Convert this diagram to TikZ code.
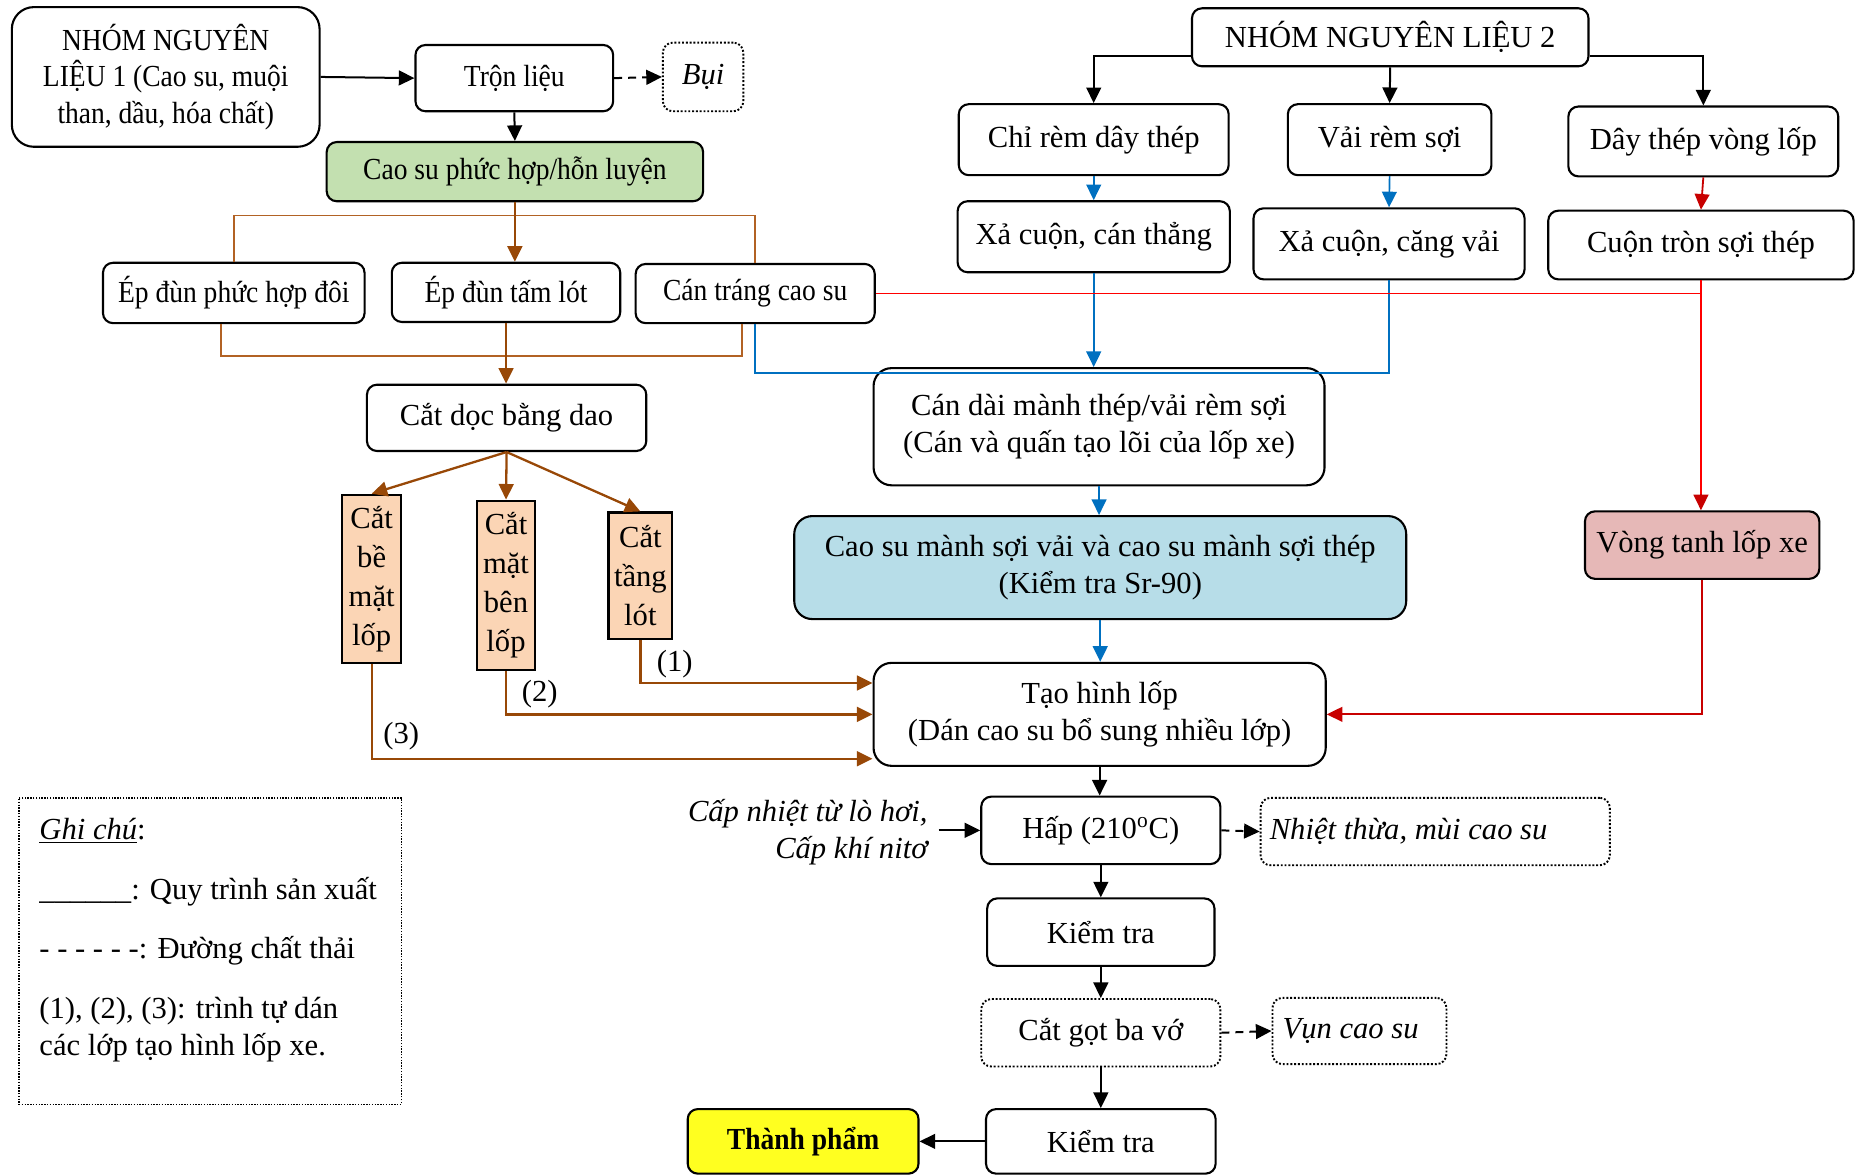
\documentclass[tikz,border=0pt]{standalone}
\usepackage{fontspec}
\setmainfont{Liberation Serif}
\newfontfamily\condserif{Liberation Serif}[FakeStretch=0.9]
\usetikzlibrary{arrows.meta,calc}

% text sizes
\newcommand\mainsz{\fontsize{15.3}{18.3}\selectfont}
\newcommand\condsz{\condserif\fontsize{15.3}{18.3}\selectfont}

% palette
\definecolor{inkbrown}{RGB}{152,72,7}
\definecolor{framebrown}{RGB}{178,98,36}
\definecolor{inkblue}{RGB}{0,112,192}
\definecolor{inkred}{RGB}{255,0,0}
\definecolor{darkred}{RGB}{200,0,0}
\definecolor{fillgreen}{RGB}{195,224,176}
\definecolor{fillblue}{RGB}{183,221,232}
\definecolor{fillpink}{RGB}{230,184,183}
\definecolor{fillpeach}{RGB}{251,213,181}
\definecolor{fillyellow}{RGB}{255,255,32}

\tikzset{
  % a box given by its left, top, right and bottom edges
  spanbox/.style n args={4}{
    minimum width={(#3-#1)*0.5918pt}, minimum height={(#4-#2)*0.5918pt},
    at={({(#1+#3)/2},{(#2+#4)/2})}, anchor=center},
  box/.style={draw, line width=1.05pt, rounded corners=5pt, fill=white,
    inner sep=0pt, align=center, font=\mainsz},
  dotbox/.style={box, line width=0.95pt, dash pattern=on 0.95pt off 0.95pt},
  vbox/.style={draw, line width=1.1pt, fill=fillpeach, inner sep=0pt,
    align=center, font=\fontsize{15.3}{19.5}\selectfont},
  arrowhd/.style={-{Triangle[length=7.8pt,width=7.4pt]}},
  flow/.style={arrowhd, line width=1pt},
  waste/.style={arrowhd, line width=1pt, dash pattern=on 4pt off 3pt},
  brownflow/.style={arrowhd, line width=1.15pt, inkbrown},
  brownframe/.style={line width=0.85pt, framebrown},
  blueline/.style={line width=0.85pt, inkblue},
  blueflow/.style={blueline, arrowhd},
  redline/.style={line width=0.9pt, inkred},
  redflow/.style={line width=0.9pt, darkred, arrowhd},
  lbl/.style={font=\mainsz, inner sep=0pt},
}

\begin{document}
\begin{tikzpicture}[x=0.5918pt, y=-0.5918pt]
\useasboundingbox (0,0) rectangle (1568,993);

% ---------- raw material group 1 ----------
\node[box, rounded corners=11pt, font=\condsz, spanbox={10}{6}{270}{124}] (nl1)
  {NHÓM NGUYÊN\\LIỆU 1 (Cao su, muội\\than, dầu, hóa chất)};
\node[box, font=\condsz, spanbox={351}{38}{518}{94}] (tl) {Trộn liệu};
\node[dotbox, font=\mainsz\itshape, spanbox={560}{36}{628}{94}] (bui) {Bụi};
\node[box, fill=fillgreen, font=\condsz, spanbox={276}{120}{594}{170}] (cs)
  {Cao su phức hợp/hỗn luyện};
\node[box, font=\condsz, spanbox={87}{222}{308}{273}] (ep) {Ép đùn phức hợp đôi};
\node[box, font=\condsz, spanbox={331}{222}{524}{272}] (et) {Ép đùn tấm lót};
\node[box, font=\condsz, spanbox={537}{223}{739}{273}] (ct) {Cán tráng cao su};
\node[box, spanbox={310}{325}{546}{381}] (cd) {Cắt dọc bằng dao};
\node[vbox, spanbox={289}{418}{339}{560}] (cbm) {Cắt\\bề\\mặt\\lốp};
\node[vbox, spanbox={403}{423}{452}{566}] (cmb) {Cắt\\mặt\\bên\\lốp};
\node[vbox, spanbox={514}{433}{568}{540}] (ctl) {Cắt\\tầng\\lót};

% ---------- raw material group 2 ----------
\node[box, spanbox={1007}{7}{1342}{56}] (nl2) {NHÓM NGUYÊN LIỆU 2};
\node[box, spanbox={810}{88}{1038}{148}] (crd) {Chỉ rèm dây thép};
\node[box, spanbox={1088}{88}{1260}{148}] (vrs) {Vải rèm sợi};
\node[box, spanbox={1325}{90}{1553}{149}] (dtv) {Dây thép vòng lốp};
\node[box, spanbox={809}{170}{1039}{230}] (xct) {Xả cuộn, cán thẳng};
\node[box, spanbox={1059}{176}{1288}{236}] (xcv) {Xả cuộn, căng vải};
\node[box, spanbox={1308}{178}{1566}{236}] (ctr) {Cuộn tròn sợi thép};
\node[box, rounded corners=9pt, spanbox={738}{311}{1119}{410}] (cdm)
  {Cán dài mành thép/vải rèm sợi\\(Cán và quấn tạo lõi của lốp xe)};
\node[box, rounded corners=9pt, fill=fillblue, spanbox={671}{436}{1188}{523}] (csm)
  {Cao su mành sợi vải và cao su mành sợi thép\\(Kiểm tra Sr-90)};
\node[box, fill=fillpink, spanbox={1339}{432}{1537}{489}] (vt) {Vòng tanh lốp xe};

% ---------- main line ----------
\node[box, rounded corners=9pt, spanbox={738}{560}{1120}{647}] (th)
  {Tạo hình lốp\\(Dán cao su bổ sung nhiều lớp)};
\node[box, spanbox={829}{673}{1031}{730}] (hap) {Hấp (210\textsuperscript{o}C)};
\node[dotbox, font=\mainsz\itshape, spanbox={1065}{674}{1360}{731}] (nt)
  {Nhiệt thừa, mùi cao su\hspace{26.6pt}};
\node[anchor=east, align=right, inner sep=0pt, font=\mainsz\itshape] (cn) at (784,703)
  {Cấp nhiệt từ lò hơi,\\Cấp khí nitơ};
\node[box, spanbox={834}{759}{1026}{816}] (kt1) {Kiểm tra};
\node[dotbox, spanbox={829}{844}{1031}{901}] (cg) {Cắt gọt ba vớ};
\node[dotbox, font=\mainsz\itshape, spanbox={1075}{843}{1222}{899}] (vc)
  {Vụn cao su\hspace{8.9pt}};
\node[box, spanbox={833}{937}{1027}{991.5}] (kt2) {Kiểm tra};
\node[box, fill=fillyellow, font=\condsz\bfseries, spanbox={581}{937}{776}{991.5}] (tp)
  {Thành phẩm};

% ---------- legend ----------
\node[draw, line width=0.7pt, dash pattern=on 0.7pt off 0.7pt, inner sep=0pt,
  spanbox={16}{674}{339}{933}] (lg) {};
\node[lbl, anchor=west] (lg1) at (33,702) {\underline{\textit{Ghi chú}}:};
\node[lbl, anchor=west] (lg2) at (33,753) {\_\_\_\_\_\_: Quy trình sản xuất};
\node[lbl, anchor=west] (lg3) at (33,803) {- - - - - -: Đường chất thải};
\node[lbl, anchor=west, align=left] (lg4) at (33,870)
  {(1), (2), (3): trình tự dán\\các lớp tạo hình lốp xe.};

% ---------- connectors: group 1 ----------
\draw[flow] (nl1.east) -- (tl.west);
\draw[waste] (tl.east) -- (bui.west);
\draw[flow] (tl.south) -- (cs.north);

\coordinate (splitY) at (0,182);
\draw[brownframe] (ep.north) -- (ep.north |- splitY) -- (ct.north |- splitY) -- (ct.north);
\draw[brownflow] (cs.south) -- (cs.south |- et.north);
\draw[brownframe] ($(ep.south)+(-10.5,0)$) -- ++(0,27) -| ($(ct.south)+(-11,0)$);
\draw[brownflow] (et.south) -- (et.south |- cd.north);

\draw[brownflow] (cd.south) -- (cbm.north);
\draw[brownflow] (cd.south) -- (cmb.north);
\draw[brownflow] (cd.south) -- (ctl.north);

\draw[brownflow] (ctl.south) |- ($(th.west)+(0,-26.5)$);
\draw[brownflow] (cmb.south) |- (th.west);
\draw[brownflow] (cbm.south) |- ($(th.west)+(0,37.5)$);
\node[lbl] (ord1) at (570,561) {(1)};
\node[lbl] (ord2) at (456,586) {(2)};
\node[lbl] (ord3) at (339,622) {(3)};

% ---------- connectors: group 2 ----------
\draw[flow] ($(nl2.west)+(0,15.5)$) -| (crd.north);
\draw[flow] (nl2.south) -- (vrs.north);
\draw[flow] ($(nl2.east)+(0,15.5)$) -| (dtv.north);

\draw[blueflow] (crd.south) -- (xct.north);
\draw[blueflow] (vrs.south) -- (xcv.north);
\draw[redflow] (dtv.south) -- (ctr.north);

\coordinate (joinY) at (0,315);
\draw[blueline] (ct.south) |- (xcv.south |- joinY) -- (xcv.south);
\draw[blueflow] (xct.south) -- (xct.south |- cdm.north);

\draw[redline] (ct.east) -- (ct.east -| ctr.south);
\draw[redline] (ctr.south) -- ($(ctr.south |- vt.north)+(0,-12)$);
\draw[redflow] ($(ctr.south |- vt.north)+(0,-14)$) -- (ctr.south |- vt.north);
\draw[redflow] (vt.south) |- (th.east);

\draw[blueflow] (cdm.south) -- (cdm.south |- csm.north);
\draw[blueflow] (csm.south) -- (csm.south |- th.north);

% ---------- connectors: main line ----------
\draw[flow] (th.south) -- (th.south |- hap.north);
\draw[flow] ($(cn.east)+(9,-1.5)$) -- (hap.west);
\draw[waste] (hap.east) -- (nt.west);
\draw[flow] (hap.south) -- (kt1.north);
\draw[flow] (kt1.south) -- (cg.north);
\draw[waste] (cg.east) -- (vc.west);
\draw[flow] (cg.south) -- (kt2.north);
\draw[flow] (kt2.west) -- (tp.east);
\end{tikzpicture}
\end{document}
